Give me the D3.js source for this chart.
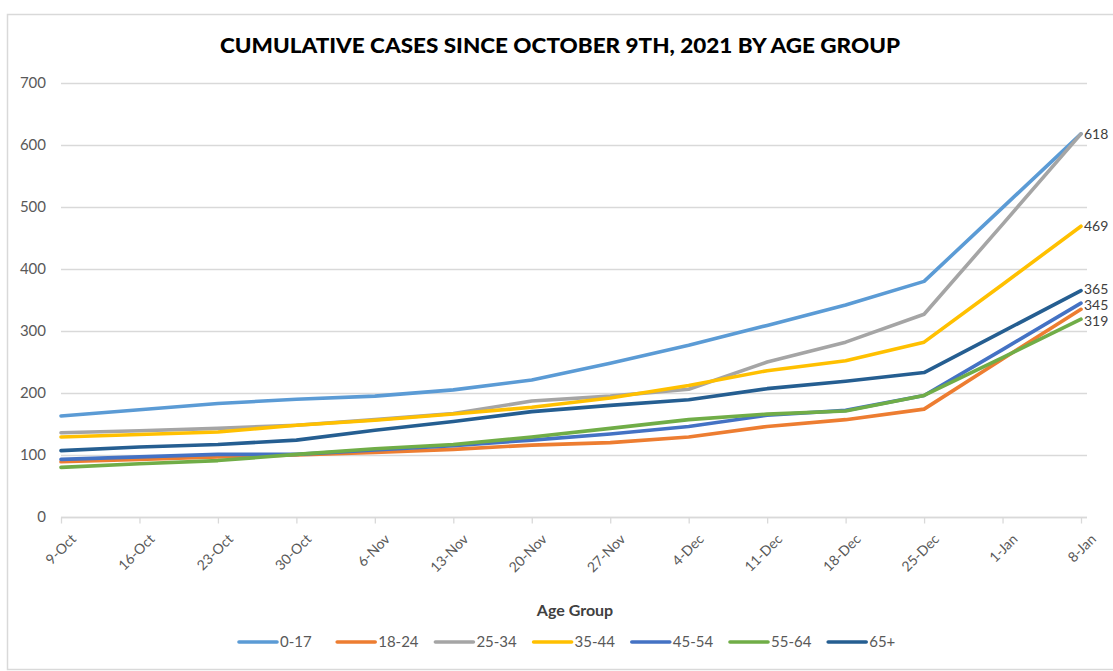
<!DOCTYPE html>
<html><head><meta charset="utf-8">
<script src="https://cdn.jsdelivr.net/npm/d3@7"></script>
<style>body{margin:0;background:#fff;} svg{display:block;}</style>
</head><body>
<svg id="c" width="1113" height="671"></svg>
<script>
const dates = ["9-Oct","16-Oct","23-Oct","30-Oct","6-Nov","13-Nov","20-Nov","27-Nov","4-Dec","11-Dec","18-Dec","25-Dec","1-Jan","8-Jan"];
const groups = ["0-17","18-24","25-34","35-44","45-54","55-64","65+"];
const v0_17  = [163,173,183,190,195,205,221,248,277,309,342,380,499,618];
const v18_24 = [89,93,97,100,104,109,116,120,129,146,157,174,255,335];
const v25_34 = [136,139,143,148,157,167,187,195,206,250,282,327,472,618];
const v35_44 = [129,133,137,148,156,166,177,192,212,236,252,282,375,469];
const v45_54 = [93,97,101,101,108,115,124,134,146,164,172,196,270,345];
const v55_64 = [80,86,91,101,110,117,129,143,157,166,171,196,257,319];
const v65p   = [107,113,117,124,140,154,170,180,189,207,219,233,299,365];
const colors = ["#5B9BD5","#ED7D31","#A5A5A5","#FFC000","#4472C4","#70AD47","#255E91"];
const showLabel = [false,false,true,true,true,true,true];
const labelNudge = [0,0,0,0,1.5,2,-2];
const yTicks = [0,100,200,300,400,500,600,700];
const title = "CUMULATIVE CASES SINCE OCTOBER 9TH, 2021 BY AGE GROUP";
const xTitle = "Age Group";

const seriesVals = [v0_17,v18_24,v25_34,v35_44,v45_54,v55_64,v65p];
const series = groups.map((g,i)=>({name:g,color:colors[i],values:seriesVals[i],label:showLabel[i],nudge:labelNudge[i]}));

const svg = d3.select("#c");
const font = "Lato, 'Open Sans', sans-serif";

svg.append("rect").attr("x",7.5).attr("y",14.5).attr("width",1120).attr("height",655)
  .attr("fill","#fff").attr("stroke","#d9d9d9").attr("stroke-width",1.5);

const x = d3.scalePoint().domain(dates).range([61,1081]);
const y = d3.scaleLinear().domain([0,700]).range([517,83]);
const plotRight = 1087;

// gridlines
svg.append("g").selectAll("line").data(yTicks).join("line")
  .attr("x1",61).attr("x2",plotRight)
  .attr("y1",d=>Math.round(y(d))+0.5).attr("y2",d=>Math.round(y(d))+0.5)
  .attr("stroke","#d9d9d9").attr("stroke-width",1.3);

// y axis labels
const yAxis = d3.axisLeft(y).tickValues(yTicks).tickSize(0).tickPadding(0);
const gy = svg.append("g").attr("transform","translate(46,0)").call(yAxis);
gy.select(".domain").remove();
gy.selectAll("text").attr("font-family",font).attr("font-size",15).attr("fill","#595959");

// x axis
const xAxis = d3.axisBottom(x).tickSize(6).tickPadding(4);
const gx = svg.append("g").attr("transform","translate(0,517.5)").call(xAxis);
gx.select(".domain").attr("d",`M61,0H${plotRight}`).attr("stroke","#d9d9d9").attr("stroke-width",1.3);
gx.selectAll(".tick line").attr("stroke","#d9d9d9").attr("stroke-width",1.3);
gx.selectAll("text").attr("font-family",font).attr("font-size",14).attr("fill","#595959")
  .attr("text-anchor","end").attr("dy","0.35em")
  .attr("transform","translate(5,12) rotate(-45)");

// lines
const line = d3.line().x((d,i)=>x(dates[i])).y(d=>y(d));
svg.append("g").selectAll("path").data(series).join("path")
  .attr("d",d=>line(d.values)).attr("fill","none").attr("stroke",d=>d.color)
  .attr("stroke-width",3.6).attr("stroke-linejoin","round").attr("stroke-linecap","round");

// end labels
svg.append("g").selectAll("text").data(series.filter(s=>s.label)).join("text")
  .attr("x",x(dates[dates.length-1])+3).attr("y",d=>y(d.values[d.values.length-1])+d.nudge)
  .attr("dy","0.35em").attr("font-family",font).attr("font-size",14).attr("fill","#404040")
  .text(d=>d.values[d.values.length-1]);

// title
svg.append("text").attr("x",560).attr("y",53).attr("text-anchor","middle")
  .attr("font-family",font).attr("font-weight","900").attr("font-size",21).attr("fill","#000")
  .attr("textLength",680).attr("lengthAdjust","spacingAndGlyphs").text(title);

// x title
svg.append("text").attr("x",575).attr("y",616).attr("text-anchor","middle")
  .attr("font-family",font).attr("font-weight","bold").attr("font-size",16).attr("fill","#404040")
  .text(xTitle);

// legend
const lg = svg.append("g").selectAll("g").data(series).join("g")
  .attr("transform",(d,i)=>`translate(${239+i*98.2},642)`);
lg.append("line").attr("x1",0).attr("x2",38).attr("y1",0).attr("y2",0)
  .attr("stroke",d=>d.color).attr("stroke-width",3.6).attr("stroke-linecap","round");
lg.append("text").attr("x",41).attr("y",0).attr("dy","0.35em")
  .attr("font-family",font).attr("font-size",15).attr("fill","#595959").text(d=>d.name);
</script>
</body></html>
